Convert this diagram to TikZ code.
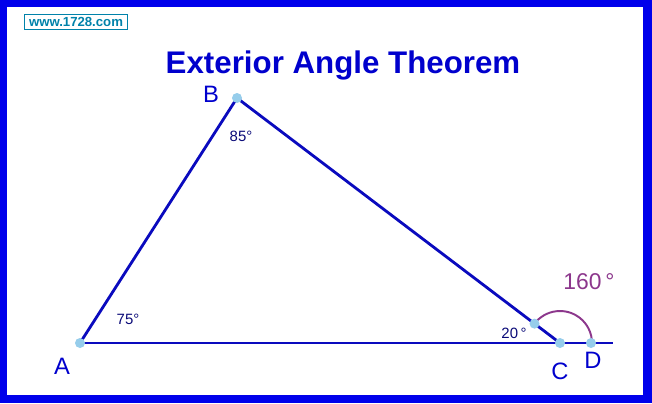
\documentclass[tikz,border=0pt]{standalone}
\usepackage{fontspec}
\setmainfont{Liberation Sans}
\usetikzlibrary{calc}

\definecolor{frameblue}{RGB}{0,0,235}
\definecolor{lineblue}{RGB}{10,10,190}
\definecolor{textblue}{RGB}{0,0,205}
\definecolor{navy}{RGB}{10,10,120}
\definecolor{dotblue}{RGB}{150,205,235}
\definecolor{arcpurple}{RGB}{140,55,140}
\definecolor{webteal}{RGB}{0,130,170}

\tikzset{
  side/.style={lineblue, line width=1.6pt},
  vertex/.style={font=\fontsize{13.5}{14}\selectfont, text=textblue},
  anglab/.style={font=\fontsize{8.5}{10}\selectfont, text=navy},
  dot/.style={fill=dotblue}
}

\begin{document}
\begin{tikzpicture}[x=0.02cm, y=0.02cm]
% frame
\fill[frameblue] (0,0) rectangle (652,403);
\fill[white] (7,8) rectangle (643,396);
\useasboundingbox (0,0) rectangle (652,403);

% points
\coordinate (A) at (80,60);
\coordinate (B) at (237,305);
\coordinate (C) at (560,60);
\coordinate (D) at (591,60);
\coordinate (E) at (613,60);
\coordinate (P) at ($(C)!0.64cm!(B)$);

% sides
\draw[side] (A) -- (B);
\draw[side] (B) -- (C);
\draw[side] (A) -- (E);

% exterior angle
\draw[arcpurple, line width=1.1pt] (P) arc[start angle=142.8, end angle=0, radius=32];

% dots
\foreach \p in {A,B,C,D,P}
  \fill[dot] (\p) circle (5);

% labels
\node (title) at (343,338) {\fontsize{17.8}{20}\selectfont\bfseries\color{textblue}Exterior Angle Theorem};
\node (web)[draw=webteal, line width=0.6pt, inner sep=0pt, minimum width=2.06cm, minimum height=0.3cm,
  font=\fontsize{7.5}{8}\selectfont\bfseries, text=webteal] at (76,381) {www.1728.com};

\node (la)[vertex] at (62,37) {A};
\node (lb)[vertex] at (211,309) {B};
\node (lc)[vertex] at (560,32) {C};
\node (ld)[vertex] at (593,43) {D};

\node (a85)[anglab] at (241,267) {85°};
\node (a75)[anglab] at (128,84) {75°};
\node (a20)[anglab] at (514,70) {20\,°};
\node (a160)[font=\fontsize{13}{14}\selectfont, text=arcpurple] at (589,121) {160\,°};

\end{tikzpicture}
\end{document}
